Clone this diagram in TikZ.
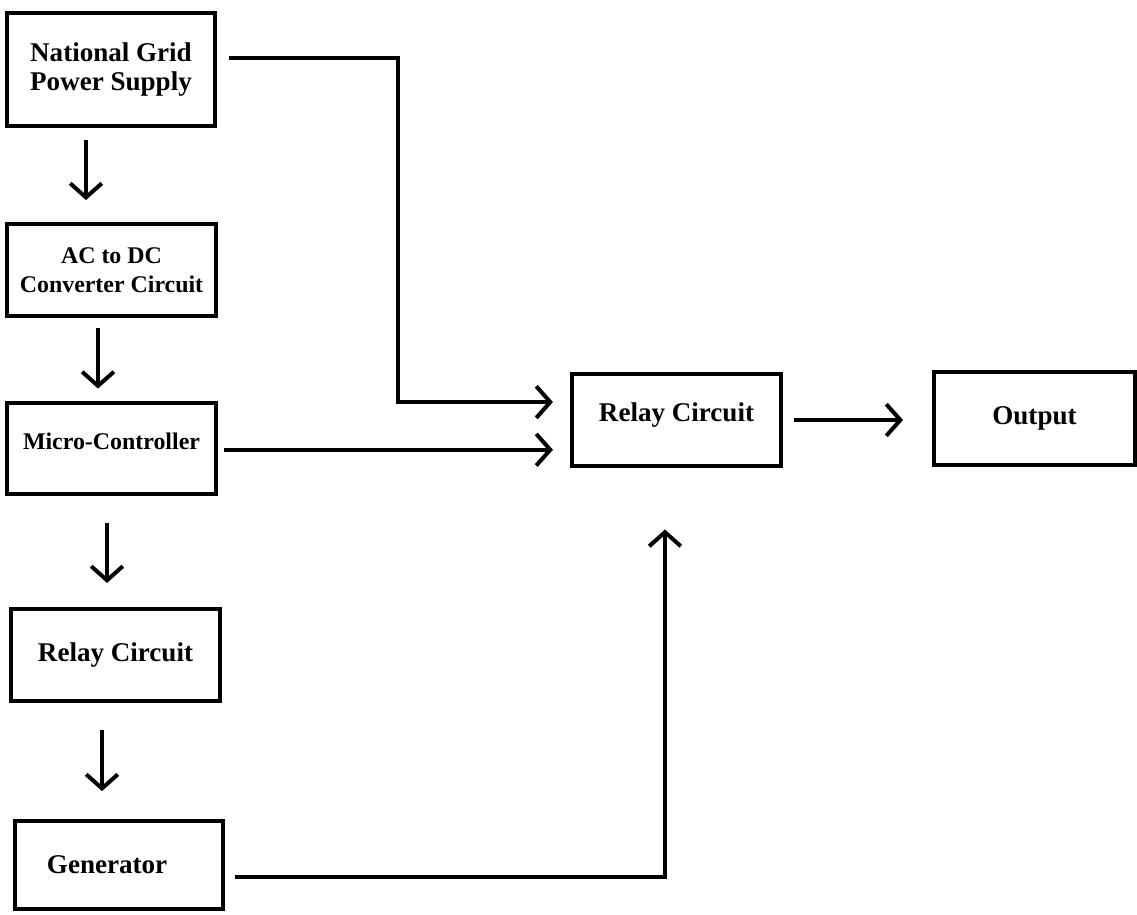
\documentclass[tikz,border=0pt]{standalone}
\usepackage{fontspec}
\setmainfont{Liberation Serif}
\usetikzlibrary{arrows.meta}

\tikzset{
  blk/.style={draw, line width=0.08cm, minimum width=4.18cm, minimum height=1.84cm, align=center, inner sep=2pt, font=\bfseries\fontsize{15.4}{17}\selectfont},
  smallblk/.style={blk, font=\bfseries\fontsize{13.6}{16.5}\selectfont},
  arr/.style={-{Straight Barb[length=8pt, width=18pt]}, line width=0.08cm}
}

\begin{document}
\begin{tikzpicture}[x=0.02cm, y=-0.02cm]
        \useasboundingbox (0,0) rectangle (1137,914);
        \node [blk, minimum width=4.16cm, minimum height=2.26cm] (grid) at (111, 69.5) {National Grid\\Power Supply};
        \node [smallblk] (acdc) at (111.5, 270) {AC to DC\\Converter Circuit};
        \node [smallblk, minimum height=1.82cm, text depth=8pt] (mcu) at (111.5, 448) {Micro-Controller};
        \node [blk] (relayL) at (115.5, 655) {Relay Circuit};
        \node [blk, minimum width=4.16cm, minimum height=1.76cm] (gen) at (119, 865) {\hbox{Generator\kern13.6pt}};
        \node [blk, text depth=9pt] (relayR) at (676.5, 420) {Relay Circuit};
        \node [blk, minimum width=4.02cm, minimum height=1.86cm] (out) at (1034.5, 418.5) {Output};

        \coordinate (colA) at (86, 0);
        \coordinate (colB) at (98, 0);
        \coordinate (colC) at (107, 0);
        \coordinate (colD) at (102, 0);
        \coordinate (bendA) at (398, 58);
        \coordinate (bendB) at (665, 877);

        \draw [arr, shorten <=6.8pt, shorten >=12.5pt] (grid.south -| colA) -- (acdc.north -| colA);
        \draw [arr, shorten <=5.7pt, shorten >=6.8pt] (acdc.south -| colB) -- (mcu.north -| colB);
        \draw [arr, shorten <=15.4pt, shorten >=13.7pt] (mcu.south -| colC) -- (relayL.north -| colC);
        \draw [arr, shorten <=15.4pt, shorten >=15.9pt] (relayL.south -| colD) -- (gen.north -| colD);

        \draw [arr, shorten <=6.8pt, shorten >=9.7pt] (grid.east |- bendA) -- (bendA) |- ([yshift=10.2pt]relayR.west);
        \draw [arr, shorten <=3.4pt, shorten >=9.7pt] ([yshift=-1pt]mcu.east) -- ([yshift=-1pt]mcu.east -| relayR.west);
        \draw [arr, shorten <=5.7pt, shorten >=35pt] (gen.east |- bendB) -- (bendB) -- (bendB |- relayR.south);
        \draw [arr, shorten <=6.3pt, shorten >=16.5pt] (relayR.east) -- (out.west |- relayR.east);
\end{tikzpicture}
\end{document}
